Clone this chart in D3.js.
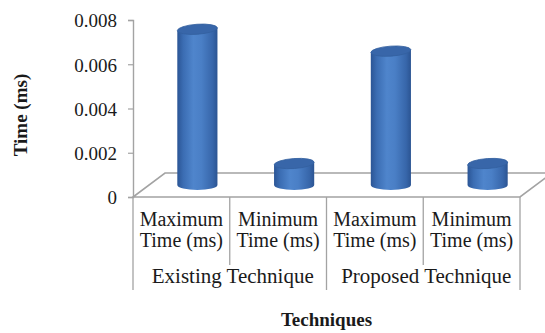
<!DOCTYPE html>
<html>
<head>
<meta charset="utf-8">
<script src="https://cdn.jsdelivr.net/npm/d3@7"></script>
<style>
  html, body { margin: 0; padding: 0; background: #fff; }
  svg { display: block; }
  text { font-family: "Liberation Serif", "Times New Roman", serif; fill: #1a1a1a; }
</style>
</head>
<body>
<svg id="chart" width="545" height="333"></svg>
<script>
// Timing results per technique
const groups = ["Existing Technique", "Proposed Technique"];
const measures = ["Maximum Time (ms)", "Minimum Time (ms)"];
const categories = ["Existing|Max", "Existing|Min", "Proposed|Max", "Proposed|Min"];
const timeValues = [0.00704, 0.00097, 0.00605, 0.00097];
const tickValues = [0, 0.002, 0.004, 0.006, 0.008];

const svg = d3.select("#chart");

// plot frame (front plane) and 3-D depth offset
const plotLeft = 133, plotRight = 520, plotBottom = 197, plotTop = 20;
const depthX = 32, depthY = -24;

const x = d3.scaleBand().domain(categories).range([plotLeft, plotRight]).padding(0);
const y = d3.scaleLinear().domain([0, 0.008]).range([plotBottom, plotTop]);

const gray = "#a3a3a3";

// floor of the 3-D plot area
const floor = [
  [plotLeft, plotBottom], [plotRight, plotBottom],
  [plotRight + depthX, plotBottom + depthY], [plotLeft + depthX, plotBottom + depthY]
];
svg.append("path")
  .attr("d", d3.line()(floor) + "Z")
  .attr("fill", "#fff")
  .attr("stroke", gray)
  .attr("stroke-width", 1.6);

// value axis
const yAxis = svg.append("g")
  .attr("transform", `translate(${plotLeft},0)`)
  .call(d3.axisLeft(y)
    .tickValues(tickValues)
    .tickSize(5)
    .tickPadding(11)
    .tickFormat(d => d === 0 ? "0" : d3.format(".3f")(d)));
yAxis.attr("font-family", null);
yAxis.select(".domain").attr("stroke", gray).attr("stroke-width", 1.4);
yAxis.selectAll(".tick line").attr("stroke", gray).attr("stroke-width", 1.2);
yAxis.selectAll(".tick text")
  .style("font-family", "'Liberation Serif', serif")
  .attr("font-size", 19)
  .attr("fill", "#1a1a1a")
  .attr("dy", "0.36em");

// cylinder shading
const defs = svg.append("defs");
const grad = defs.append("linearGradient").attr("id", "cyl").attr("x1", "0").attr("x2", "1");
[[0, "#2b5595"], [0.15, "#3b6db3"], [0.4, "#4f85cc"], [0.6, "#4a7fc6"], [0.88, "#3766aa"], [1, "#2b5492"]]
  .forEach(([o, c]) => grad.append("stop").attr("offset", o).attr("stop-color", c));

const barW = x.bandwidth() * 0.415;
const ry = 5;
const bars = svg.append("g");
categories.forEach((c, i) => {
  const cx = x(c) + x.bandwidth() / 2 + depthX / 2;
  const yb = y(0) + depthY / 2;
  const yt = y(timeValues[i]) + depthY / 2;
  const rx = barW / 2;
  const g = bars.append("g");
  g.append("path")
    .attr("d", `M${cx - rx},${yt + 1.5} L${cx - rx},${yb} A${rx},${ry} 0 0 0 ${cx + rx},${yb} L${cx + rx},${yt - 1.5} Z`)
    .attr("fill", "url(#cyl)");
  g.append("ellipse")
    .attr("cx", cx).attr("cy", yt)
    .attr("rx", rx).attr("ry", ry)
    .attr("transform", `rotate(-4,${cx},${yt})`)
    .attr("fill", "#3866a9")
    .attr("stroke", "#33609f")
    .attr("stroke-width", 0.8);
});

// category dividers under the floor
const bounds = [plotLeft, x(categories[1]), x(categories[2]), x(categories[3]), plotRight];
bounds.forEach((bx, i) => {
  const long = i % 2 === 0;
  svg.append("line")
    .attr("x1", bx).attr("x2", bx)
    .attr("y1", plotBottom).attr("y2", long ? 290 : 265)
    .attr("stroke", gray).attr("stroke-width", 1.3);
});

// measure labels, two lines each
categories.forEach((c, i) => {
  const words = measures[i % 2].split(" ");
  const cx = x(c) + x.bandwidth() / 2;
  const lines = [words[0], words.slice(1).join(" ")];
  lines.forEach((line, j) => {
    svg.append("text")
      .attr("x", cx)
      .attr("y", 226 + j * 20.5)
      .attr("text-anchor", "middle")
      .attr("font-size", 20)
      .text(line);
  });
});

// group labels
groups.forEach((gName, i) => {
  svg.append("text")
    .attr("x", (bounds[i * 2] + bounds[i * 2 + 2]) / 2 + 3)
    .attr("y", 283)
    .attr("text-anchor", "middle")
    .attr("font-size", 21)
    .text(gName);
});

// axis titles
svg.append("text")
  .attr("x", (plotLeft + plotRight) / 2)
  .attr("y", 326)
  .attr("text-anchor", "middle")
  .attr("font-size", 19)
  .attr("font-weight", "bold")
  .text("Techniques");

svg.append("text")
  .attr("transform", "translate(27,115) rotate(-90)")
  .attr("text-anchor", "middle")
  .attr("font-size", 19)
  .attr("font-weight", "bold")
  .text("Time (ms)");
</script>
</body>
</html>
